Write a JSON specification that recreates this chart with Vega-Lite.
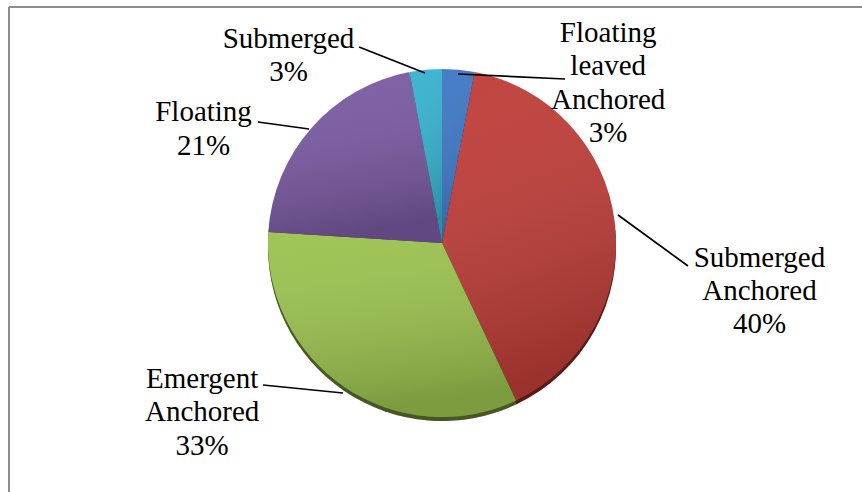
{
  "$schema": "https://vega.github.io/schema/vega-lite/v6.json",
  "width": 840,
  "height": 486,
  "autosize": "none",
  "padding": {"left": 22, "top": 0, "right": 0, "bottom": 6},
  "background": "white",
  "config": {"view": {"stroke": null}},
  "data": {
    "values": [
      {"idx": 1, "category": "Floating leaved Anchored", "value": 3},
      {"idx": 2, "category": "Submerged Anchored", "value": 40},
      {"idx": 3, "category": "Emergent Anchored", "value": 33},
      {"idx": 4, "category": "Floating", "value": 21},
      {"idx": 5, "category": "Submerged", "value": 3}
    ]
  },
  "resolve": {"scale": {"theta": "independent", "radius": "independent", "x": "independent", "y": "independent"}},
  "layer": [
    {
      "mark": {"type": "rule", "stroke": "#8c8c8c", "strokeWidth": 1.3},
      "encoding": {"x": {"value": -13}, "y": {"value": 7}, "y2": {"value": 520}}
    },
    {
      "mark": {"type": "rule", "stroke": "#8c8c8c", "strokeWidth": 1.3},
      "encoding": {"y": {"value": 7}, "x": {"value": -13}, "x2": {"value": 900}}
    },
    {
      "layer": [
        {
          "mark": {"type": "arc", "radius": 174, "yOffset": 4, "stroke": null},
          "encoding": {
            "theta": {"field": "value", "type": "quantitative", "stack": true},
            "order": {"field": "idx", "type": "quantitative"},
            "color": {
              "field": "category", "type": "nominal", "legend": null,
              "scale": {
                "domain": ["Floating leaved Anchored", "Submerged Anchored", "Emergent Anchored", "Floating", "Submerged"],
                "range": ["#3e78c6", "#bf3d38", "#9cc24f", "#7a5aa2", "#37b2d0"]
              }
            }
          }
        },
        {
          "mark": {"type": "arc", "radius": 174, "yOffset": 4, "fill": "black", "fillOpacity": 0.55, "stroke": null},
          "encoding": {
            "theta": {"field": "value", "type": "quantitative", "stack": true},
            "order": {"field": "idx", "type": "quantitative"}
          }
        },
        {
          "mark": {"type": "arc", "radius": 174, "stroke": null},
          "encoding": {
            "theta": {"field": "value", "type": "quantitative", "stack": true},
            "order": {"field": "idx", "type": "quantitative"},
            "color": {"field": "category", "type": "nominal", "legend": null}
          }
        },
        {
          "mark": {
            "type": "arc", "radius": 174, "stroke": null,
            "fill": {
              "gradient": "linear", "x1": 0, "y1": 0, "x2": 0.2, "y2": 1,
              "stops": [
                {"offset": 0, "color": "rgba(255,255,255,0.04)"},
                {"offset": 1, "color": "rgba(0,0,0,0.2)"}
              ]
            }
          },
          "encoding": {
            "theta": {"field": "value", "type": "quantitative", "stack": true},
            "order": {"field": "idx", "type": "quantitative"}
          }
        }
      ]
    },
    {
      "mark": {"type": "arc", "fill": null, "stroke": "black", "strokeWidth": 1.7},
      "encoding": {
        "x": {
          "field": "idx", "type": "quantitative", "axis": null,
          "scale": {"type": "linear", "zero": false, "nice": false, "domain": [1, 2, 3, 4, 5], "range": [436, 596, 321, 287, 403]}
        },
        "y": {
          "field": "idx", "type": "quantitative", "axis": null,
          "scale": {"type": "linear", "zero": false, "nice": false, "domain": [1, 2, 3, 4, 5], "range": [74, 215, 393, 129, 73]}
        },
        "theta": {
          "field": "idx", "type": "quantitative", "stack": null,
          "scale": {"type": "linear", "zero": false, "nice": false, "domain": [1, 2, 3, 4, 5], "range": [1.6176, 2.2004, -1.4711, -1.4343, -1.1955]}
        },
        "theta2": {"field": "idx"},
        "radius": {
          "field": "idx", "type": "quantitative", "stack": null,
          "scale": {"type": "linear", "zero": false, "nice": false, "domain": [1, 2, 3, 4, 5], "range": [107.1, 86.6, 80.4, 51.5, 70.9]}
        },
        "radius2": {"value": 0}
      }
    },
    {
      "transform": [
        {"calculate": "split(datum.category + ' ' + datum.value + '%', ' ')", "as": "label"}
      ],
      "mark": {
        "type": "text", "font": "Liberation Serif", "fontSize": 29,
        "lineHeight": 33.3, "align": "center", "baseline": "middle", "color": "black"
      },
      "encoding": {
        "theta": {
          "field": "idx", "type": "quantitative", "stack": null,
          "scale": {
            "type": "linear", "zero": false, "nice": false,
            "domain": [1, 2, 3, 4, 5],
            "range": [0.6695, 1.6171, -2.0868, -1.0697, -0.6447]
          }
        },
        "radius": {
          "field": "idx", "type": "quantitative", "stack": null,
          "scale": {
            "type": "linear", "zero": false, "nice": false,
            "domain": [1, 2, 3, 4, 5],
            "range": [267.8, 317.8, 275.7, 271.9, 255.4]
          }
        },
        "text": {"field": "label"}
      }
    }
  ]
}
